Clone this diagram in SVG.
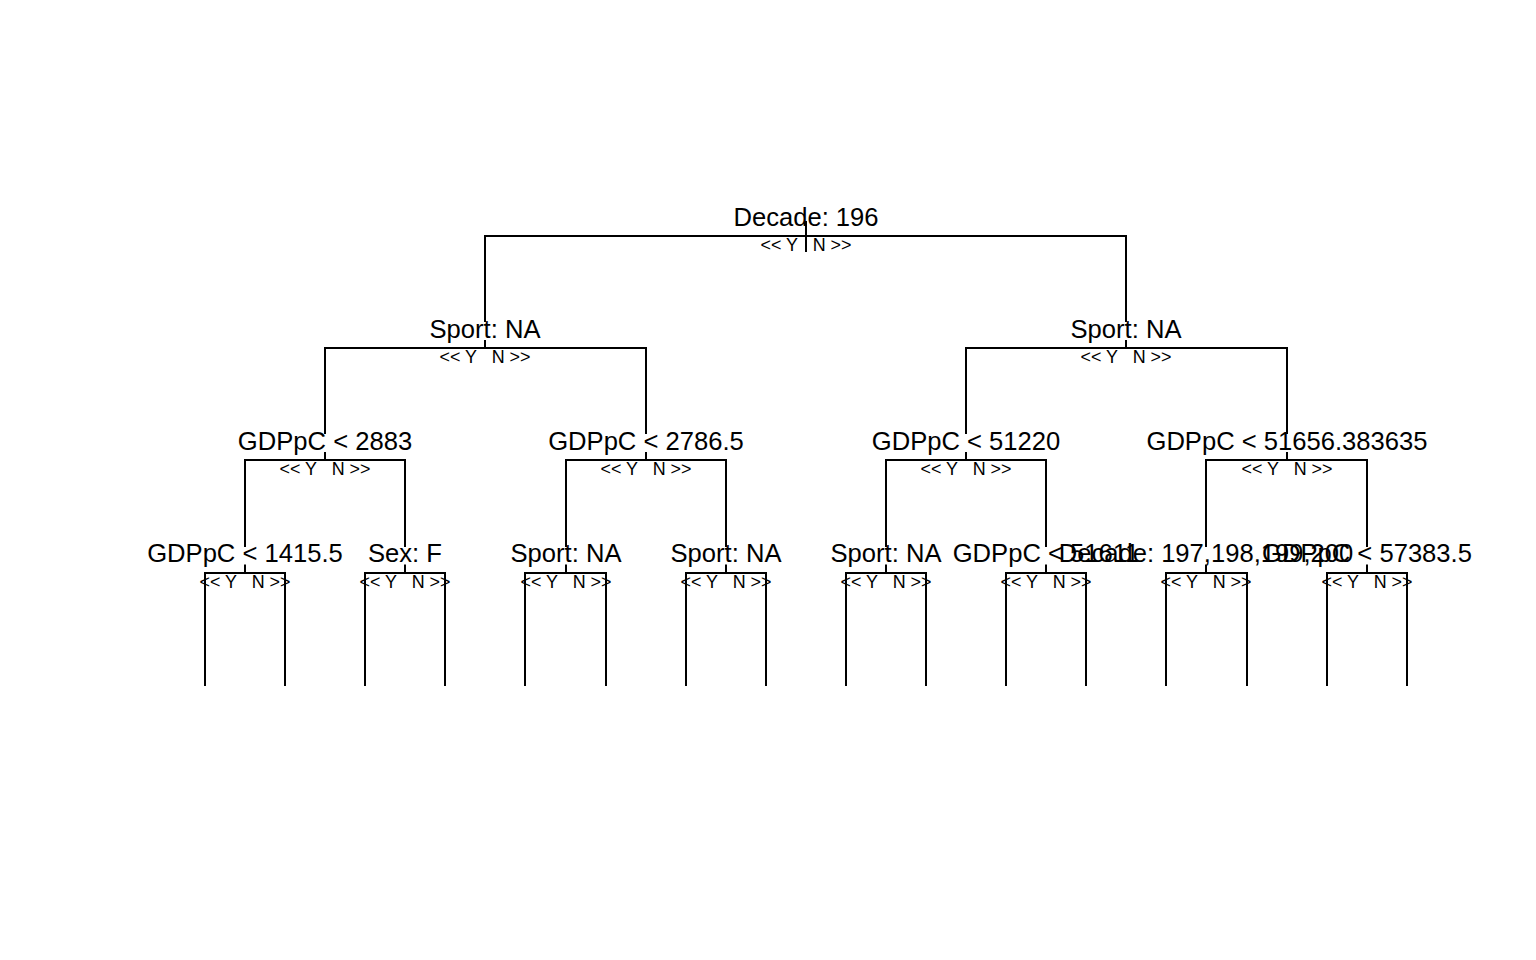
<svg xmlns="http://www.w3.org/2000/svg" width="1536" height="960" viewBox="0 0 1536 960">
<style>
.bg{fill:#ffffff}
.edge{fill:none;stroke:#000000;stroke-width:2;stroke-linecap:butt;stroke-linejoin:miter}
.lbl{font-family:"Liberation Sans",Arial,sans-serif;font-size:25.6px;fill:#000000;text-anchor:middle}
.yn{font-family:"Liberation Sans",Arial,sans-serif;font-size:17.9px;fill:#000000;text-anchor:middle;white-space:pre}
</style>
<rect class="bg" x="0" y="0" width="1536" height="960"/>
<g id="connectors">
<path class="edge" d="M806,221 V252"/>
<path class="edge" d="M806,236 H485 V322 M485,340 V348"/>
<path class="edge" d="M806,236 H1126 V322 M1126,340 V348"/>
<path class="edge" d="M485,348 H325 V434 M325,452 V460"/>
<path class="edge" d="M485,348 H646 V434 M646,452 V460"/>
<path class="edge" d="M1126,348 H966 V434 M966,452 V460"/>
<path class="edge" d="M1126,348 H1287 V434 M1287,452 V460"/>
<path class="edge" d="M325,460 H245 V547 M245,564.5 V573"/>
<path class="edge" d="M325,460 H405 V547 M405,564.5 V573"/>
<path class="edge" d="M646,460 H566 V547 M566,564.5 V573"/>
<path class="edge" d="M646,460 H726 V547 M726,564.5 V573"/>
<path class="edge" d="M966,460 H886 V547 M886,564.5 V573"/>
<path class="edge" d="M966,460 H1046 V547 M1046,564.5 V573"/>
<path class="edge" d="M1287,460 H1206 V547 M1206,564.5 V573"/>
<path class="edge" d="M1287,460 H1367 V547 M1367,564.5 V573"/>
<path class="edge" d="M245,573 H205 V686"/>
<path class="edge" d="M245,573 H285 V686"/>
<path class="edge" d="M405,573 H365 V686"/>
<path class="edge" d="M405,573 H445 V686"/>
<path class="edge" d="M566,573 H525 V686"/>
<path class="edge" d="M566,573 H606 V686"/>
<path class="edge" d="M726,573 H686 V686"/>
<path class="edge" d="M726,573 H766 V686"/>
<path class="edge" d="M886,573 H846 V686"/>
<path class="edge" d="M886,573 H926 V686"/>
<path class="edge" d="M1046,573 H1006 V686"/>
<path class="edge" d="M1046,573 H1086 V686"/>
<path class="edge" d="M1206,573 H1166 V686"/>
<path class="edge" d="M1206,573 H1247 V686"/>
<path class="edge" d="M1367,573 H1327 V686"/>
<path class="edge" d="M1367,573 H1407 V686"/>
</g>
<g id="node-root"><text class="lbl" x="806" y="226">Decade: 196</text><text class="yn" x="806" y="251">&lt;&lt; Y   N &gt;&gt;</text></g>
<g id="node-L"><text class="lbl" x="485" y="337.5">Sport: NA</text><text class="yn" x="485" y="363">&lt;&lt; Y   N &gt;&gt;</text></g>
<g id="node-R"><text class="lbl" x="1126" y="337.5">Sport: NA</text><text class="yn" x="1126" y="363">&lt;&lt; Y   N &gt;&gt;</text></g>
<g id="node-LL"><text class="lbl" x="325" y="449.5">GDPpC &lt; 2883</text><text class="yn" x="325" y="475">&lt;&lt; Y   N &gt;&gt;</text></g>
<g id="node-LR"><text class="lbl" x="646" y="449.5">GDPpC &lt; 2786.5</text><text class="yn" x="646" y="475">&lt;&lt; Y   N &gt;&gt;</text></g>
<g id="node-RL"><text class="lbl" x="966" y="449.5">GDPpC &lt; 51220</text><text class="yn" x="966" y="475">&lt;&lt; Y   N &gt;&gt;</text></g>
<g id="node-RR"><text class="lbl" x="1287" y="449.5">GDPpC &lt; 51656.383635</text><text class="yn" x="1287" y="475">&lt;&lt; Y   N &gt;&gt;</text></g>
<g id="node-LLL"><text class="lbl" x="245" y="562">GDPpC &lt; 1415.5</text><text class="yn" x="245" y="588">&lt;&lt; Y   N &gt;&gt;</text></g>
<g id="node-LLR"><text class="lbl" x="405" y="562">Sex: F</text><text class="yn" x="405" y="588">&lt;&lt; Y   N &gt;&gt;</text></g>
<g id="node-LRL"><text class="lbl" x="566" y="562">Sport: NA</text><text class="yn" x="566" y="588">&lt;&lt; Y   N &gt;&gt;</text></g>
<g id="node-LRR"><text class="lbl" x="726" y="562">Sport: NA</text><text class="yn" x="726" y="588">&lt;&lt; Y   N &gt;&gt;</text></g>
<g id="node-RLL"><text class="lbl" x="886" y="562">Sport: NA</text><text class="yn" x="886" y="588">&lt;&lt; Y   N &gt;&gt;</text></g>
<g id="node-RLR"><text class="lbl" x="1046" y="562">GDPpC &lt; 51611</text><text class="yn" x="1046" y="588">&lt;&lt; Y   N &gt;&gt;</text></g>
<g id="node-RRL"><text class="lbl" x="1206" y="562">Decade: 197,198,199,200</text><text class="yn" x="1206" y="588">&lt;&lt; Y   N &gt;&gt;</text></g>
<g id="node-RRR"><text class="lbl" x="1367" y="562">GDPpC &lt; 57383.5</text><text class="yn" x="1367" y="588">&lt;&lt; Y   N &gt;&gt;</text></g>
</svg>
